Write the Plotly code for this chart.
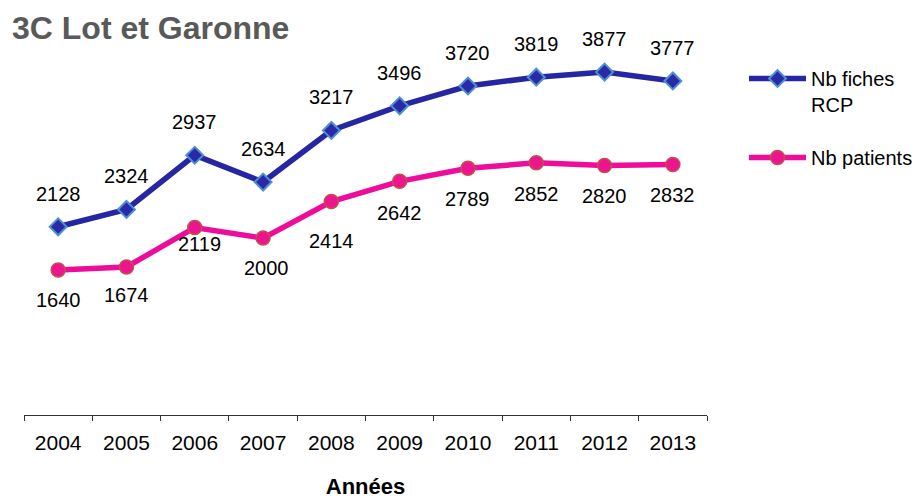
import plotly.graph_objects as go

years = ["2004", "2005", "2006", "2007", "2008", "2009", "2010", "2011", "2012", "2013"]
fiches = [2128, 2324, 2937, 2634, 3217, 3496, 3720, 3819, 3877, 3777]
patients = [1640, 1674, 2119, 2000, 2414, 2642, 2789, 2852, 2820, 2832]

# label offsets in pixels (style only)
fiches_dy = [33, 33, 33, 33, 33, 33, 33, 33, 33, 33]
patients_dy = [-30, -28, -16, -30, -39, -32, -31, -31, -30, -30]
patients_dx = [0, 0, 5, 3, 0, 0, 0, 0, 0, 0]

FONT = "Liberation Sans, Arial, sans-serif"
BLUE = "#2626A3"
PINK = "#EE0C9A"

W, H = 920, 499

fig = go.Figure()
fig.add_trace(go.Scatter(
    x=years, y=fiches, mode="lines+markers", name="Nb fiches<br>RCP",
    line=dict(color=BLUE, width=5.5),
    marker=dict(symbol="diamond", size=13, color="#2A2AA8",
                line=dict(color="#4F8FD0", width=2)),
    legendgroup="a",
))
fig.add_trace(go.Scatter(
    x=years, y=patients, mode="lines+markers", name="Nb patients",
    line=dict(color=PINK, width=5.5),
    marker=dict(symbol="circle", size=14, color="#EE1490",
                line=dict(color="#C0504D", width=1.5)),
    legendgroup="b",
))

for i, (y, dy) in enumerate(zip(fiches, fiches_dy)):
    fig.add_annotation(x=i, y=y, text=str(y), showarrow=False, yshift=dy,
                       font=dict(family=FONT, size=20, color="black"))
for i, (y, dy, dx) in enumerate(zip(patients, patients_dy, patients_dx)):
    fig.add_annotation(x=i, y=y, text=str(y), showarrow=False, yshift=dy, xshift=dx,
                       font=dict(family=FONT, size=20, color="black"))

fig.update_layout(
    width=W, height=H,
    margin=dict(l=24, r=213, t=17, b=84, autoexpand=False),
    paper_bgcolor="white", plot_bgcolor="white",
    font=dict(family=FONT, size=20, color="black"),
    title=dict(text="<b>3C Lot et Garonne</b>", x=12/W, xanchor="left", xref="container",
               y=1-28/H, yanchor="middle", yref="container",
               font=dict(family=FONT, size=32, color="#595959")),
    showlegend=True,
    legend=dict(xref="container", yref="container", x=744/W, xanchor="left",
                y=1-59/H, yanchor="top", valign="top", tracegroupgap=24,
                itemwidth=57,
                font=dict(family=FONT, size=20, color="black"),
                bgcolor="rgba(0,0,0,0)"),
    xaxis=dict(type="category", range=[-0.5, 9.5], showgrid=False, zeroline=False,
               showline=True, linecolor="#333333", linewidth=1,
               ticks="outside", tickson="boundaries", ticklen=5, tickcolor="#333333",
               ticklabelstandoff=9,
               tickfont=dict(family=FONT, size=21, color="black"),
               title=dict(text="<b>Années</b>", standoff=33,
                          font=dict(family=FONT, size=22, color="black"))),
    yaxis=dict(range=[0, 4500], visible=False, showgrid=False, zeroline=False),
)

fig.write_html("out.html", config={"displayModeBar": False},
               post_script="document.body.style.margin='0';")
